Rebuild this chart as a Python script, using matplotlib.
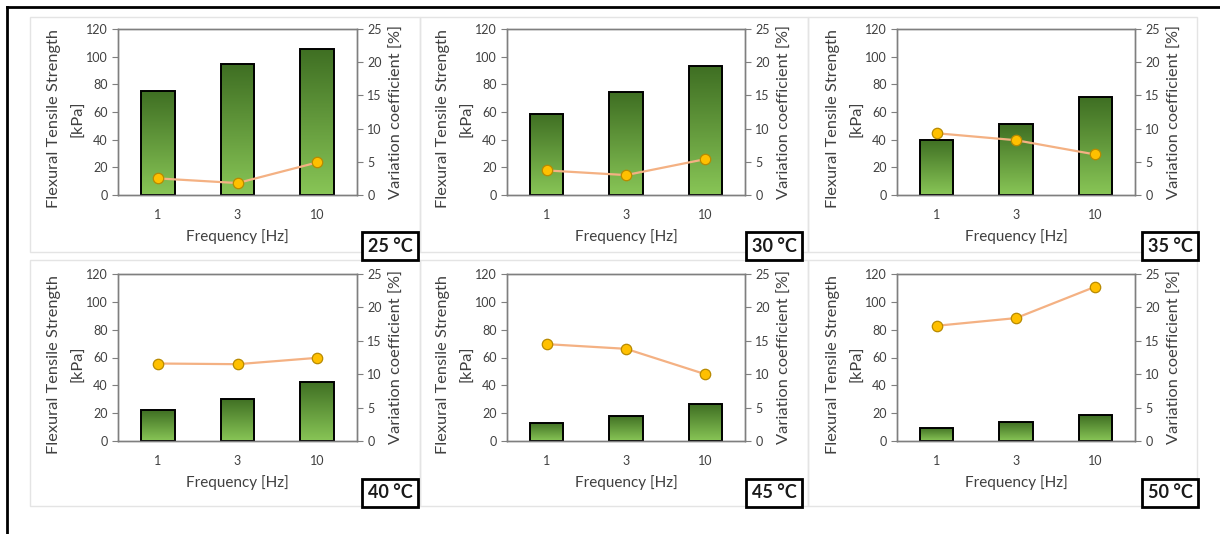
import matplotlib
matplotlib.use("Agg")
import matplotlib.pyplot as plt
import numpy as np
from matplotlib.patches import Rectangle
from matplotlib.lines import Line2D
from matplotlib.colors import LinearSegmentedColormap

plt.rcParams['font.family'] = ['Lato', 'DejaVu Sans']

# data
frequencies = ['1', '3', '10']
temperatures = ['25 °C', '30 °C', '35 °C', '40 °C', '45 °C', '50 °C']
strength = [
    [75.4, 94.4, 105.8],
    [58.9, 74.1, 93.2],
    [39.9, 51.0, 70.8],
    [22.1, 30.5, 42.7],
    [13.2, 18.2, 26.4],
    [9.4, 13.4, 18.5],
]
variation = [
    [2.5, 1.8, 4.9],
    [3.7, 3.0, 5.4],
    [9.3, 8.25, 6.1],
    [11.6, 11.5, 12.45],
    [14.5, 13.8, 10.0],
    [17.25, 18.4, 23.1],
]

W, H = 1220, 534
fig = plt.figure(figsize=(W / 100, H / 100), dpi=100)

def fx(px):
    return px / W

def fy(py):
    return 1 - py / H

green = LinearSegmentedColormap.from_list('g', ['#88c556', '#3f6f23'])
grey = '#7f7f7f'
txt = '#404040'

# outer frame (top and left lines only)
fig.add_artist(Line2D([fx(7), 1], [fy(7), fy(7)], color='black', lw=2))
fig.add_artist(Line2D([fx(7), fx(7)], [fy(7), 0], color='black', lw=2))

cols = [(118, 357), (507, 745), (897, 1135)]
rows = [(29, 195), (274, 441)]
panel_cols = [(30, 420), (420, 808), (808, 1197)]
panel_rows = [(17, 252), (260, 506)]
box_right = [418, 802, 1198]
box_top = [232, 479]

for i, temp in enumerate(temperatures):
    r, c = divmod(i, 3)
    # faint panel frame
    px0, px1 = panel_cols[c]
    py0, py1 = panel_rows[r]
    fig.add_artist(Rectangle((fx(px0), fy(py1)), fx(px1 - px0), (py1 - py0) / H,
                             transform=fig.transFigure, fill=False,
                             edgecolor='#e4e4e4', lw=1))

    x0, x1 = cols[c]
    y0, y1 = rows[r]
    ax = fig.add_axes([fx(x0), fy(y1), fx(x1 - x0), (y1 - y0) / H])
    x = np.arange(len(frequencies))
    bars = ax.bar(x, strength[i], width=0.42, facecolor='none',
                  edgecolor='black', lw=1.4, zorder=3)
    grad = np.linspace(0, 1, 100).reshape(-1, 1)
    for b in bars:
        bx, by = b.get_x(), b.get_y()
        im = ax.imshow(grad, cmap=green, aspect='auto', origin='lower',
                       extent=[bx, bx + b.get_width(), by, by + b.get_height()],
                       zorder=2)
        im.set_clip_path(b)
    ax.set_xlim(-0.5, 2.5)
    ax.set_ylim(0, 120)
    ax.set_yticks(range(0, 121, 20))
    ax.set_xticks(x)
    ax.set_xticklabels(frequencies)
    for s in ax.spines.values():
        s.set_color(grey)
        s.set_linewidth(1)
    ax.tick_params(axis='y', colors=grey, labelcolor=txt, labelsize=9, length=4)
    ax.tick_params(axis='x', length=0, labelcolor=txt, labelsize=9, pad=10)
    ax.set_xlabel('Frequency [Hz]', fontsize=11, color=txt, labelpad=6)
    ax.set_ylabel('Flexural Tensile Strength\n[kPa]', fontsize=11.8, color=txt,
                  linespacing=2.0)
    ax.yaxis.set_label_coords(-0.135, 0.46)

    ax2 = ax.twinx()
    ax2.plot(x, variation[i], color='#f4b183', lw=1.6, marker='o', ms=7.5,
             mfc='#ffc000', mec='#b88a00', mew=0.9, zorder=5)
    ax2.set_ylim(0, 25)
    ax2.set_yticks(range(0, 26, 5))
    for s in ax2.spines.values():
        s.set_color(grey)
        s.set_linewidth(1)
    ax2.tick_params(axis='y', colors=grey, labelcolor=txt, labelsize=9, length=4)
    ax2.set_ylabel('Variation coefficient [%]', fontsize=11.8, color=txt, labelpad=6)

    # temperature label box
    bw, bh = 56, 28
    rx = box_right[c]
    ty = box_top[r]
    fig.add_artist(Rectangle((fx(rx - bw), fy(ty + bh)), bw / W, bh / H,
                             transform=fig.transFigure, facecolor='white',
                             edgecolor='black', lw=2, zorder=10))
    fig.text(fx(rx - bw / 2), fy(ty + bh / 2), temp, ha='center', va='center',
             fontsize=13, fontweight='bold', color='#1a1a1a', zorder=11)

fig.savefig('out.png', dpi=100, facecolor='white')
